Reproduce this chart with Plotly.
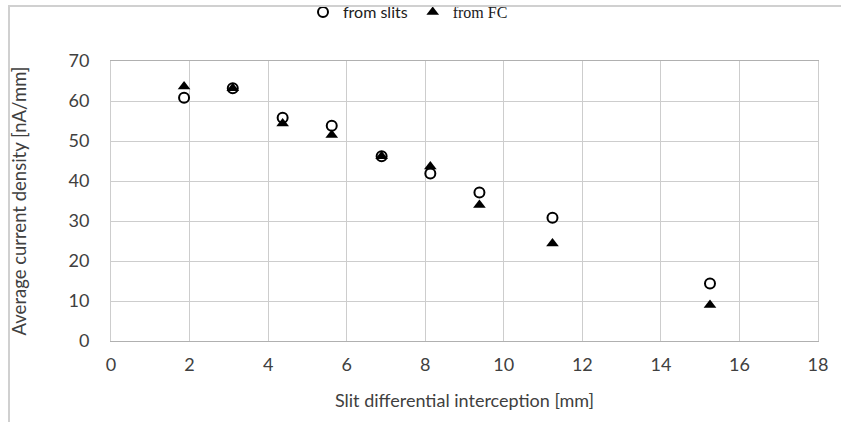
import plotly.graph_objects as go

x_vals = [1.86, 3.1, 4.37, 5.62, 6.89, 8.13, 9.38, 11.24, 15.25]
slits = [60.8, 63.2, 55.8, 53.8, 46.2, 41.9, 37.1, 30.8, 14.4]
fc = [63.6, 63.2, 54.4, 51.5, 46.2, 43.6, 34.0, 24.4, 9.0]

x_ticks = [0, 2, 4, 6, 8, 10, 12, 14, 16, 18]
y_ticks = [0, 10, 20, 30, 40, 50, 60, 70]

FONT = "Lato, Noto Sans, sans-serif"
GRID = "#cdcdcd"
TXT = "#404040"

fig = go.Figure()
fig.add_trace(go.Scatter(
    x=x_vals, y=slits, mode="markers", name="from slits",
    marker=dict(symbol="circle-open", size=10, color="black", line=dict(width=2, color="black")),
))
fig.add_trace(go.Scatter(
    x=x_vals, y=fc, mode="markers",
    name='<span style="font-family:Liberation Serif, serif">from FC</span>',
    marker=dict(symbol="triangle-up", size=11, color="black"),
))

fig.update_layout(
    width=842, height=425,
    paper_bgcolor="white", plot_bgcolor="white",
    margin=dict(l=111, r=24, t=61, b=84, autoexpand=False),
    font=dict(family=FONT, size=16, color=TXT),
    showlegend=True,
    legend=dict(orientation="h", x=(303 - 111) / 707, xanchor="left",
                y=1 + (61 - 12) / 280, yanchor="middle",
                font=dict(size=16, color="#202020"), itemwidth=30,
                bgcolor="rgba(0,0,0,0)"),
    xaxis=dict(range=[0, 18], tickvals=x_ticks, showgrid=True, gridcolor=GRID, gridwidth=1,
               zeroline=False, showline=True, linecolor="#b0b0b0", linewidth=1, mirror=True,
               ticks="", ticklabelstandoff=7, automargin=False,
               title=dict(text="Slit differential interception [mm]", standoff=20,
                          font=dict(size=18, color=TXT)),
               tickfont=dict(size=18, color=TXT)),
    yaxis=dict(range=[0, 70], tickvals=y_ticks, showgrid=True, gridcolor=GRID, gridwidth=1,
               zeroline=False, showline=True, linecolor=GRID, linewidth=1, mirror=True,
               ticks="", ticklabelstandoff=17, automargin=False,
               title=dict(text="Average current density [nA/mm]", standoff=37,
                          font=dict(size=18.5, color=TXT)),
               tickfont=dict(size=18, color=TXT)),
)

border_js = (
    "document.body.style.margin='0';"
    "document.documentElement.style.overflow='hidden';"
    "var d=document.createElement('div');"
    "d.style.cssText='position:absolute;left:8px;top:5px;width:831px;height:415px;"
    "border-top:2px solid #d0d0d0;border-left:2px solid #d0d0d0;pointer-events:none;';"
    "document.body.appendChild(d);"
)
fig.write_html("out.html", config={"displayModeBar": False}, post_script=border_js)
